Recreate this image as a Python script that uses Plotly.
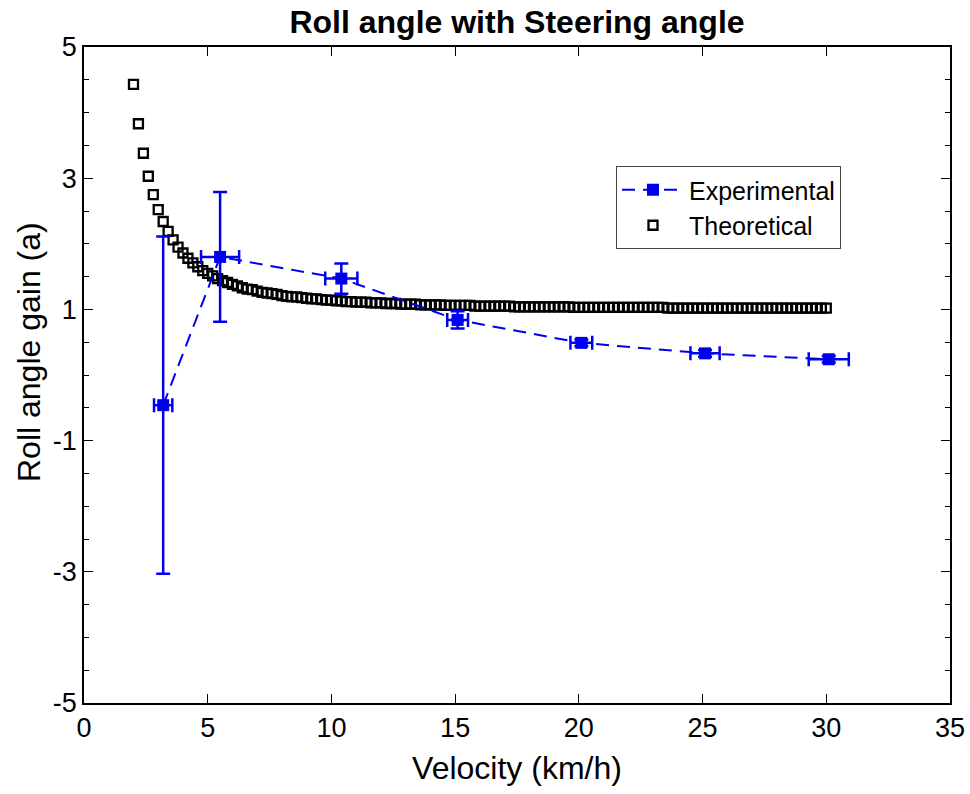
import plotly.graph_objects as go

# Theoretical roll angle gain versus velocity
theory_v = [
    2.0, 2.2, 2.4, 2.6, 2.8, 3.0, 3.2, 3.4, 3.6, 3.8,
    4.0, 4.2, 4.4, 4.6, 4.8, 5.0, 5.2, 5.4, 5.6, 5.8,
    6.0, 6.2, 6.4, 6.6, 6.8, 7.0, 7.2, 7.4, 7.6, 7.8,
    8.0, 8.2, 8.4, 8.6, 8.8, 9.0, 9.2, 9.4, 9.6, 9.8,
    10.0, 10.2, 10.4, 10.6, 10.8, 11.0, 11.2, 11.4, 11.6, 11.8,
    12.0, 12.2, 12.4, 12.6, 12.8, 13.0, 13.2, 13.4, 13.6, 13.8,
    14.0, 14.2, 14.4, 14.6, 14.8, 15.0, 15.2, 15.4, 15.6, 15.8,
    16.0, 16.2, 16.4, 16.6, 16.8, 17.0, 17.2, 17.4, 17.6, 17.8,
    18.0, 18.2, 18.4, 18.6, 18.8, 19.0, 19.2, 19.4, 19.6, 19.8,
    20.0, 20.2, 20.4, 20.6, 20.8, 21.0, 21.2, 21.4, 21.6, 21.8,
    22.0, 22.2, 22.4, 22.6, 22.8, 23.0, 23.2, 23.4, 23.6, 23.8,
    24.0, 24.2, 24.4, 24.6, 24.8, 25.0, 25.2, 25.4, 25.6, 25.8,
    26.0, 26.2, 26.4, 26.6, 26.8, 27.0, 27.2, 27.4, 27.6, 27.8,
    28.0, 28.2, 28.4, 28.6, 28.8, 29.0, 29.2, 29.4, 29.6, 29.8,
    30.0,
]
theory_gain = [
    4.43, 3.83, 3.38, 3.03, 2.75, 2.52, 2.34, 2.19, 2.06, 1.95,
    1.86, 1.78, 1.71, 1.65, 1.59, 1.55, 1.51, 1.47, 1.44, 1.41,
    1.38, 1.36, 1.33, 1.31, 1.30, 1.28, 1.26, 1.25, 1.24, 1.23,
    1.21, 1.20, 1.19, 1.19, 1.18, 1.17, 1.16, 1.16, 1.15, 1.14,
    1.14, 1.13, 1.13, 1.12, 1.12, 1.11, 1.11, 1.11, 1.10, 1.10,
    1.10, 1.09, 1.09, 1.09, 1.08, 1.08, 1.08, 1.08, 1.07, 1.07,
    1.07, 1.07, 1.07, 1.06, 1.06, 1.06, 1.06, 1.06, 1.06, 1.05,
    1.05, 1.05, 1.05, 1.05, 1.05, 1.05, 1.05, 1.04, 1.04, 1.04,
    1.04, 1.04, 1.04, 1.04, 1.04, 1.04, 1.04, 1.04, 1.04, 1.03,
    1.03, 1.03, 1.03, 1.03, 1.03, 1.03, 1.03, 1.03, 1.03, 1.03,
    1.03, 1.03, 1.03, 1.03, 1.03, 1.03, 1.03, 1.03, 1.02, 1.02,
    1.02, 1.02, 1.02, 1.02, 1.02, 1.02, 1.02, 1.02, 1.02, 1.02,
    1.02, 1.02, 1.02, 1.02, 1.02, 1.02, 1.02, 1.02, 1.02, 1.02,
    1.02, 1.02, 1.02, 1.02, 1.02, 1.02, 1.02, 1.02, 1.02, 1.02,
    1.02,
]

# Measured roll angle gain with uncertainties
exp_v = [3.2, 5.5, 10.4, 15.1, 20.1, 25.1, 30.1]
exp_gain = [-0.46, 1.80, 1.47, 0.84, 0.49, 0.33, 0.24]
exp_gain_err = [2.57, 0.99, 0.23, 0.13, 0.05, 0.05, 0.05]
exp_v_err = [0.37, 0.77, 0.65, 0.42, 0.44, 0.59, 0.81]

y_major = [-5, -3, -1, 1, 3, 5]
x_major = [0, 5, 10, 15, 20, 25, 30, 35]

BLUE = "#0000f0"
FONT = "Arial, Liberation Sans, sans-serif"

# plot area in pixels
L, R, T, B = 84, 950, 47, 703
W, H = 970, 794

fig = go.Figure()

fig.add_trace(go.Scatter(
    x=theory_v, y=theory_gain, mode="markers", name="Theoretical",
    marker=dict(symbol="square-open", size=9, color="black",
                line=dict(color="black", width=2.3)),
))

fig.add_trace(go.Scatter(
    x=exp_v, y=exp_gain, mode="lines+markers", name="Experimental",
    line=dict(color=BLUE, width=2, dash="13px,8px"),
    marker=dict(symbol="square", size=12, color=BLUE),
    error_y=dict(type="data", array=exp_gain_err, color=BLUE,
                 thickness=2.5, width=7),
    error_x=dict(type="data", array=exp_v_err, color=BLUE,
                 thickness=2.5, width=7),
))

fig.update_layout(
    width=W, height=H,
    margin=dict(l=L, r=W - R, t=T, b=H - B, autoexpand=False),
    paper_bgcolor="white", plot_bgcolor="white",
    font=dict(family=FONT, size=26, color="black"),
    title=dict(text="<b>Roll angle with Steering angle</b>",
               x=(L + R) / 2 / W, xanchor="center",
               y=1 - 22 / H, yanchor="middle",
               font=dict(size=32, color="black")),
    showlegend=True,
    legend=dict(x=(616 - L) / (R - L), y=(B - 166) / (B - T),
                xanchor="left", yanchor="top",
                traceorder="reversed",
                bgcolor="white", bordercolor="#444", borderwidth=1,
                font=dict(size=25, color="black"),
                itemwidth=62, tracegroupgap=0),
    annotations=[dict(
        text="Roll angle gain (a)", textangle=-90,
        xref="paper", yref="paper",
        x=(29 - L) / (R - L), y=(B - 352) / (B - T),
        xanchor="center", yanchor="middle", showarrow=False,
        font=dict(size=32, color="black"),
    )],
)

fig.update_xaxes(
    range=[0, 35], tickvals=x_major, ticktext=[str(v) for v in x_major],
    ticks="inside", ticklen=9, tickwidth=1, tickcolor="black",
    showline=True, linecolor="black", linewidth=1.5, mirror="ticks",
    showgrid=False, zeroline=False, automargin=False,
    tickfont=dict(size=27),
    title=dict(text="Velocity (km/h)", font=dict(size=32), standoff=14),
)
fig.update_yaxes(
    range=[-5, 5], tickvals=y_major, ticktext=[str(v) for v in y_major],
    ticks="inside", ticklen=9, tickwidth=1, tickcolor="black",
    minor=dict(dtick=0.5, ticks="inside", ticklen=5, tickcolor="black", showgrid=False),
    showline=True, linecolor="black", linewidth=1.5, mirror="ticks",
    showgrid=False, zeroline=False, automargin=False,
    tickfont=dict(size=27),
)

fig.write_html("out.html")
